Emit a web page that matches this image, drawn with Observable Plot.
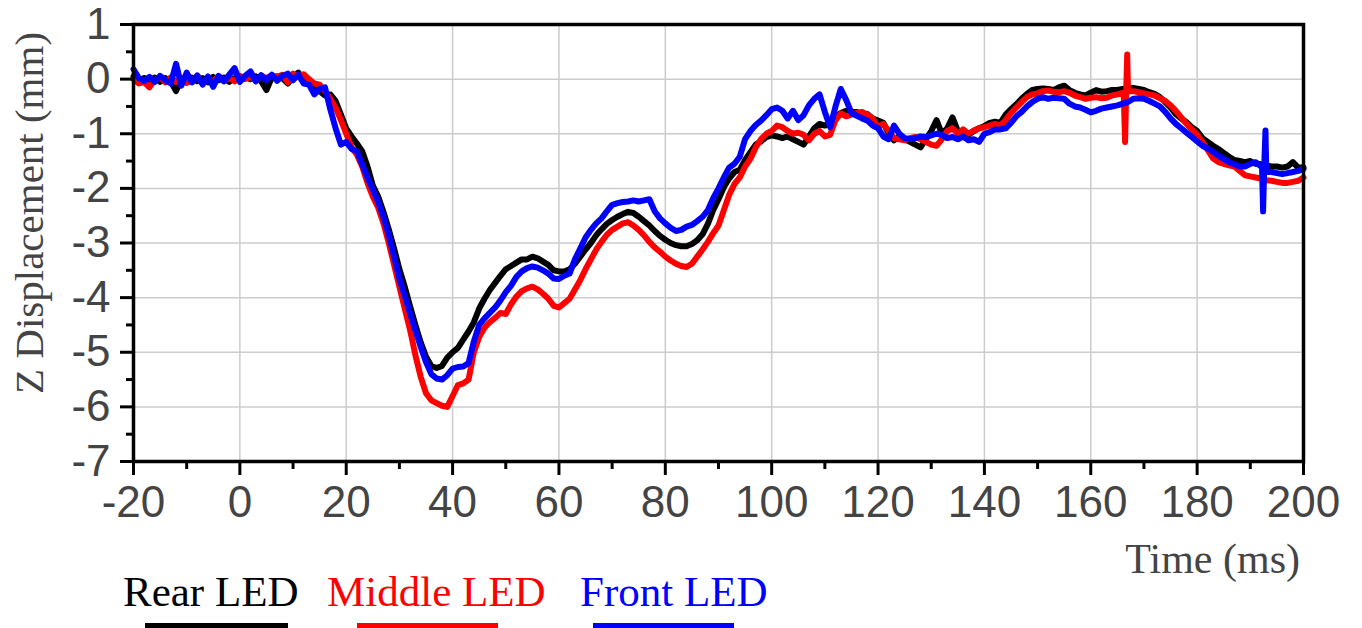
<!DOCTYPE html>
<html><head><meta charset="utf-8">
<script src="https://cdn.jsdelivr.net/npm/d3@7"></script>
<script src="https://cdn.jsdelivr.net/npm/@observablehq/plot@0.6"></script>
<style>
body{margin:0;background:#fff;}
#wrap{position:relative;width:1362px;height:628px;overflow:hidden;background:#fff;}
.lbl{position:absolute;white-space:nowrap;line-height:1;font-family:"Liberation Serif","Times New Roman",serif;}
.sw{position:absolute;height:6px;}
</style></head><body>
<div id="wrap"></div>
<script>
// ---- data ----
const time = [-20,-19,-18,-17,-16,-15,-14,-13,-12,-11,-10,-9,-8,-7,-6,-5,-4,-3,-2,-1,
0,1,2,3,4,5,6,7,8,9,10,11,12,13,14,15,16,17,18,19,20,21,22,23,24,25,26,27,28,29,
30,31,32,33,34,35,36,37,38,39,40,41,42,43,44,45,46,47,48,49,50,51,52,53,54,55,56,57,58,59,
60,61,62,63,64,65,66,67,68,69,70,71,72,73,74,75,76,77,78,79,80,81,82,83,84,85,86,87,88,89,
90,91,92,93,94,95,96,97,98,99,100,101,102,103,104,105,106,107,108,109,110,111,112,113,114,115,116,117,118,119,
120,121,122,123,124,125,126,127,128,129,130,131,132,133,134,135,136,137,138,139,140,141,142,143,144,145,146,147,148,149,
150,151,152,153,154,155,156,157,158,159,160,161,162,163,164,165,166,167,168,169,170,171,172,173,174,175,176,177,178,179,
180,181,182,183,184,185,186,187,188,189,190,191,192,193,194,195,196,197,198,199,200];

const rearLED = [
0.05,-0.02,0.02,-0.03,0.03,-0.05,0.02,-0.04,-0.22,0.0,
-0.05,0.03,-0.04,0.02,-0.06,0.04,-0.02,0.03,-0.05,0.02,
-0.03,0.04,0.0,0.05,-0.04,-0.2,0.03,0.05,0.02,-0.08,
0.04,0.12,-0.02,-0.08,-0.15,-0.22,-0.3,-0.28,-0.4,-0.65,
-0.9,-1.05,-1.18,-1.32,-1.6,-1.95,-2.15,-2.43,-2.75,-3.1,
-3.48,-3.8,-4.16,-4.5,-4.82,-5.08,-5.25,-5.29,-5.25,-5.1,
-5.0,-4.92,-4.77,-4.62,-4.45,-4.2,-4.02,-3.86,-3.73,-3.6,
-3.48,-3.42,-3.36,-3.3,-3.3,-3.25,-3.28,-3.34,-3.4,-3.5,
-3.52,-3.52,-3.48,-3.38,-3.25,-3.12,-3.0,-2.86,-2.75,-2.65,
-2.58,-2.52,-2.47,-2.43,-2.45,-2.52,-2.6,-2.68,-2.78,-2.87,
-2.94,-3.0,-3.04,-3.06,-3.06,-3.02,-2.95,-2.84,-2.65,-2.4,
-2.2,-1.98,-1.82,-1.7,-1.66,-1.48,-1.34,-1.2,-1.14,-1.06,
-1.03,-1.05,-1.08,-1.05,-1.1,-1.15,-1.2,-1.05,-0.9,-0.82,
-0.85,-0.82,-0.68,-0.62,-0.58,-0.6,-0.6,-0.66,-0.64,-0.72,
-0.76,-0.8,-1.0,-1.12,-1.05,-1.1,-1.15,-1.2,-1.25,-1.1,
-0.95,-0.75,-1.0,-0.9,-0.7,-0.95,-0.98,-1.02,-0.95,-0.9,
-0.86,-0.8,-0.78,-0.8,-0.65,-0.55,-0.46,-0.36,-0.27,-0.2,
-0.18,-0.17,-0.18,-0.2,-0.15,-0.12,-0.2,-0.25,-0.28,-0.3,
-0.25,-0.2,-0.23,-0.22,-0.2,-0.2,-0.18,-0.17,-0.16,-0.18,
-0.2,-0.24,-0.27,-0.33,-0.42,-0.52,-0.64,-0.72,-0.79,-0.88,
-0.95,-1.08,-1.15,-1.22,-1.28,-1.35,-1.42,-1.48,-1.5,-1.52,
-1.5,-1.55,-1.56,-1.58,-1.6,-1.6,-1.62,-1.6,-1.52,-1.62,-1.62];

const middleLED = [
0.0,-0.08,-0.05,-0.15,-0.02,0.04,-0.06,0.03,-0.05,0.02,
-0.07,-0.02,0.05,-0.08,0.01,-0.04,0.05,-0.03,0.02,-0.04,
0.06,0.0,0.05,-0.03,0.06,0.02,0.07,0.04,0.08,-0.06,
0.1,0.05,0.09,0.0,-0.08,-0.1,-0.22,-0.36,-0.52,-0.75,
-1.0,-1.25,-1.38,-1.6,-1.9,-2.15,-2.35,-2.64,-3.0,-3.4,
-3.8,-4.2,-4.59,-5.05,-5.45,-5.75,-5.88,-5.93,-5.98,-6.0,
-5.8,-5.6,-5.57,-5.5,-5.0,-4.72,-4.55,-4.45,-4.37,-4.28,
-4.3,-4.12,-3.98,-3.88,-3.83,-3.8,-3.85,-3.93,-4.02,-4.15,
-4.18,-4.1,-4.02,-3.85,-3.68,-3.48,-3.3,-3.12,-2.98,-2.85,
-2.76,-2.7,-2.64,-2.62,-2.68,-2.76,-2.86,-2.98,-3.08,-3.16,
-3.25,-3.32,-3.38,-3.42,-3.44,-3.38,-3.25,-3.12,-2.98,-2.82,
-2.68,-2.4,-2.12,-1.92,-1.8,-1.6,-1.46,-1.25,-1.1,-1.0,
-0.95,-0.85,-0.88,-0.95,-1.0,-0.98,-1.02,-1.12,-1.0,-0.95,
-1.05,-1.02,-0.75,-0.63,-0.68,-0.65,-0.62,-0.6,-0.65,-0.72,
-0.88,-0.82,-0.95,-1.08,-1.1,-1.12,-1.08,-1.06,-1.1,-1.15,
-1.2,-1.22,-1.1,-0.95,-0.9,-1.0,-0.92,-1.0,-0.94,-0.9,
-0.88,-0.85,-0.82,-0.85,-0.75,-0.62,-0.52,-0.42,-0.33,-0.28,
-0.26,-0.22,-0.21,-0.23,-0.24,-0.22,-0.25,-0.3,-0.33,-0.36,
-0.34,-0.33,-0.35,-0.34,-0.3,-0.28,-0.25,-0.22,-0.22,-0.24,
-0.26,-0.28,-0.3,-0.35,-0.4,-0.48,-0.58,-0.7,-0.82,-0.92,
-1.02,-1.15,-1.3,-1.45,-1.52,-1.55,-1.58,-1.6,-1.68,-1.76,
-1.78,-1.8,-1.82,-1.85,-1.86,-1.88,-1.9,-1.9,-1.88,-1.86,-1.8];

const frontLED = [
0.18,0.02,-0.03,0.04,-0.05,0.06,-0.02,-0.08,0.28,-0.12,
0.12,-0.06,0.07,-0.1,0.05,-0.14,0.06,-0.04,0.08,0.2,
-0.05,0.06,0.14,-0.04,0.07,-0.02,0.08,-0.03,0.06,0.1,
-0.02,0.08,-0.08,-0.1,-0.28,-0.18,-0.15,-0.55,-0.9,-1.2,
-1.15,-1.28,-1.32,-1.56,-1.8,-2.02,-2.25,-2.52,-2.85,-3.25,
-3.65,-3.97,-4.29,-4.6,-4.9,-5.18,-5.4,-5.48,-5.5,-5.42,
-5.3,-5.27,-5.26,-5.2,-4.8,-4.5,-4.38,-4.28,-4.18,-4.05,
-3.9,-3.78,-3.62,-3.52,-3.46,-3.43,-3.45,-3.5,-3.56,-3.65,
-3.66,-3.6,-3.56,-3.3,-3.1,-2.9,-2.76,-2.64,-2.55,-2.42,
-2.3,-2.27,-2.25,-2.24,-2.22,-2.24,-2.22,-2.2,-2.42,-2.55,
-2.64,-2.72,-2.78,-2.76,-2.7,-2.67,-2.6,-2.52,-2.4,-2.18,
-2.0,-1.8,-1.62,-1.55,-1.42,-1.1,-0.95,-0.84,-0.76,-0.66,
-0.55,-0.52,-0.58,-0.72,-0.58,-0.75,-0.66,-0.48,-0.36,-0.28,
-0.6,-0.88,-0.5,-0.18,-0.38,-0.62,-0.67,-0.72,-0.76,-0.85,
-0.9,-1.05,-1.1,-0.85,-1.0,-1.08,-1.1,-1.08,-1.05,-1.06,
-1.03,-1.0,-1.02,-1.08,-1.06,-1.1,-1.05,-1.12,-1.1,-1.15,
-1.0,-0.97,-0.92,-0.92,-0.9,-0.8,-0.68,-0.6,-0.5,-0.42,
-0.36,-0.33,-0.36,-0.34,-0.35,-0.36,-0.45,-0.5,-0.52,-0.56,
-0.61,-0.58,-0.54,-0.52,-0.5,-0.48,-0.45,-0.42,-0.36,-0.35,
-0.36,-0.4,-0.45,-0.5,-0.6,-0.72,-0.82,-0.9,-0.98,-1.06,
-1.14,-1.22,-1.27,-1.33,-1.4,-1.46,-1.52,-1.56,-1.6,-1.6,
-1.55,-1.52,-1.6,-1.68,-1.7,-1.72,-1.74,-1.72,-1.7,-1.68,-1.64];

// short transients (glitches) between regular samples
const middleSpikeT = [166.2, 166.45, 166.65, 166.85];
const middleSpikeV = [-0.26, -1.15, -0.28, 0.45];
const frontSpikeT = [192.2, 192.4, 192.6, 192.85];
const frontSpikeV = [-1.6, -2.42, -1.65, -0.94];
const rearSpikeT = [];
const rearSpikeV = [];

const seriesNames = ["Rear LED", "Middle LED", "Front LED"];
const seriesColors = ["#000000", "#ff0000", "#0000ff"];

const xTicks = [-20, 0, 20, 40, 60, 80, 100, 120, 140, 160, 180, 200];
const xMinor = [-10, 10, 30, 50, 70, 90, 110, 130, 150, 170, 190];
const yTicks = [-7, -6, -5, -4, -3, -2, -1, 0, 1];
const yMinor = [-6.5, -5.5, -4.5, -3.5, -2.5, -1.5, -0.5, 0.5];

// ---- build tables ----
function build(values, sT, sV) {
  const pts = time.map((t, i) => ({t, v: values[i]}))
    .concat(sT.map((t, i) => ({t, v: sV[i]})));
  pts.sort((a, b) => a.t - b.t);
  return pts;
}
const rearRows = build(rearLED, rearSpikeT, rearSpikeV);
const middleRows = build(middleLED, middleSpikeT, middleSpikeV);
const frontRows = build(frontLED, frontSpikeT, frontSpikeV);

const sans = "'Liberation Sans', Arial, Helvetica, sans-serif";
const fmt = d => String(d);

const chart = Plot.plot({
  width: 1362, height: 628,
  marginLeft: 133, marginRight: 59, marginTop: 24, marginBottom: 167,
  x: {domain: [-20, 200], label: null},
  y: {domain: [-7, 1], label: null},
  style: {background: "white", overflow: "visible"},
  marks: [
    Plot.gridX(xTicks, {stroke: "#cccccc", strokeOpacity: 1, strokeWidth: 1.5}),
    Plot.gridY(yTicks, {stroke: "#cccccc", strokeOpacity: 1, strokeWidth: 1.5}),
    Plot.line(rearRows, {x: "t", y: "v", stroke: seriesColors[0], strokeWidth: 6}),
    Plot.line(middleRows, {x: "t", y: "v", stroke: seriesColors[1], strokeWidth: 6}),
    Plot.line(frontRows, {x: "t", y: "v", stroke: seriesColors[2], strokeWidth: 6}),
    Plot.frame({stroke: "black", strokeWidth: 3.5}),
    Plot.axisX(xTicks, {tickSize: 14, strokeWidth: 3, stroke: "black", tickFormat: () => "", label: null}),
    Plot.axisX(xMinor, {tickSize: 8, strokeWidth: 3, stroke: "black", tickFormat: () => "", label: null}),
    Plot.axisX(xTicks, {tickSize: 0, tickPadding: 24, fontSize: 44, fill: "#444", fontFamily: sans, tickFormat: fmt, label: null}),
    Plot.axisY(yTicks, {tickSize: 13, strokeWidth: 3, stroke: "black", tickFormat: () => "", label: null}),
    Plot.axisY(yMinor, {tickSize: 7, strokeWidth: 3, stroke: "black", tickFormat: () => "", label: null}),
    Plot.axisY(yTicks, {tickSize: 0, tickPadding: 23, fontSize: 44, fill: "#444", fontFamily: sans, tickFormat: fmt, label: null})
  ]
});

const wrap = document.getElementById("wrap");
wrap.appendChild(chart);

function addLabel(text, css) {
  const d = document.createElement("div");
  d.className = "lbl";
  d.textContent = text;
  Object.assign(d.style, css);
  wrap.appendChild(d);
  return d;
}
// axis titles
addLabel("Time (ms)", {right: "62px", top: "538px", fontSize: "42px", color: "#444"});
addLabel("Z Displacement (mm)", {left: "9px", top: "394px", fontSize: "41px", color: "#444",
  transform: "rotate(-90deg)", transformOrigin: "0 0"});

// legend
const legendX = [123, 327, 580];
const swatchX = [145, 357, 593];
const swatchW = [143, 141, 141];
seriesNames.forEach((name, i) => {
  addLabel(name, {left: legendX[i] + "px", top: "570px", fontSize: "43px", color: seriesColors[i]});
  const s = document.createElement("div");
  s.className = "sw";
  Object.assign(s.style, {left: swatchX[i] + "px", top: "623px", width: swatchW[i] + "px", background: seriesColors[i]});
  wrap.appendChild(s);
});
</script>
</body></html>
